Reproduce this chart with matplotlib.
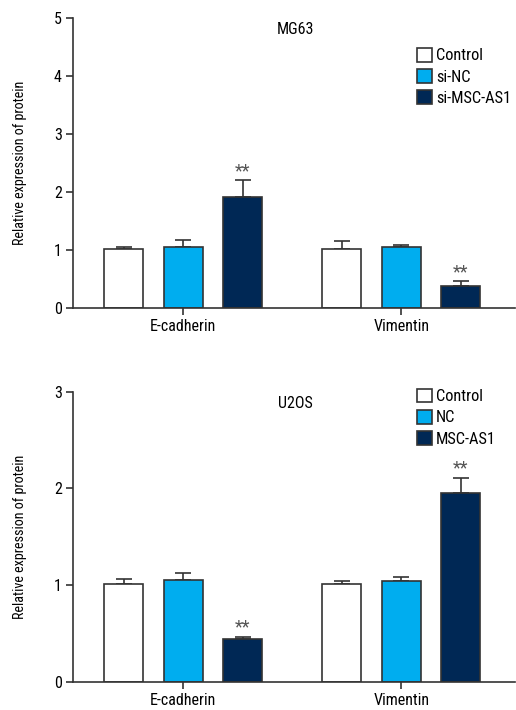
import numpy as np
import matplotlib
matplotlib.use('Agg')
import matplotlib.pyplot as plt
from matplotlib import font_manager

names = set(f.name for f in font_manager.fontManager.ttflist)
for cand in ['Liberation Sans Narrow', 'Roboto Condensed', 'Open Sans Condensed', 'Noto Sans Condensed',
		'DejaVu Sans Condensed', 'Liberation Sans']:
	if cand in names:
		font = cand
		break
plt.rcParams['font.family'] = [font, 'DejaVu Sans']

#### Data ####

genes = ['E-cadherin', 'Vimentin']

mg63_labels = ['Control', 'si-NC', 'si-MSC-AS1']
mg63_means = [[1.02, 1.02], [1.05, 1.05], [1.91, 0.38]]
mg63_err = [[0.03, 0.14], [0.13, 0.04], [0.30, 0.09]]

u2os_labels = ['Control', 'NC', 'MSC-AS1']
u2os_means = [[1.01, 1.01], [1.05, 1.045], [0.44, 1.95]]
u2os_err = [[0.05, 0.035], [0.07, 0.04], [0.025, 0.16]]

colors = ['white', '#00adef', '#002855']
edge = '#333333'


def panel(ax, title, labels, means, errs, ymax, leg_top):
	x = np.arange(len(genes))
	offs = [-0.273, 0, 0.273]
	for i in range(3):
		ax.bar(x + offs[i], means[i], width=0.179, color=colors[i], edgecolor=edge,
			linewidth=1.2, label=labels[i], zorder=2)
		ax.errorbar(x + offs[i], means[i], yerr=[[0, 0], errs[i]], fmt='none',
			ecolor=edge, elinewidth=1.2, capsize=5.5, capthick=1.2, zorder=1)
	# significance stars on the third group
	for j in range(len(genes)):
		ax.text(x[j] + offs[2], means[2][j] + errs[2][j], '**', ha='center', va='bottom',
			fontsize=13, color='#555555')
	ax.set_xlim(-0.505, 1.523)
	ax.set_ylim(0, ymax)
	ax.set_yticks(range(ymax + 1))
	ax.set_xticks(x)
	ax.set_xticklabels(genes)
	ax.tick_params(labelsize=11.5, width=1.2, length=5, color=edge, pad=3)
	ax.spines['top'].set_visible(False)
	ax.spines['right'].set_visible(False)
	for s in ('left', 'bottom'):
		ax.spines[s].set_linewidth(1.2)
		ax.spines[s].set_color(edge)
	ax.set_ylabel('Relative expression of protein', fontsize=10.2)
	ax.text(0.514, 0.96, title, transform=ax.get_xaxis_transform(), ha='center', va='center',
		fontsize=11.5)
	ax.legend(loc='upper left', bbox_to_anchor=(0.778, leg_top), frameon=False, fontsize=11.8,
		handlelength=0.92, handleheight=0.92, handletextpad=0.25, labelspacing=0.35,
		borderaxespad=0, borderpad=0)


fig = plt.figure(figsize=(5.16, 7.10), dpi=100)
ax1 = fig.add_axes([0.1415, 0.566, 0.857, 0.4086])
ax2 = fig.add_axes([0.1415, 0.0399, 0.857, 0.4084])

panel(ax1, 'MG63', mg63_labels, mg63_means, mg63_err, 5, 0.897)
panel(ax2, 'U2OS', u2os_labels, u2os_means, u2os_err, 3, 1.011)

for ax in (ax1, ax2):
	ax.yaxis.set_label_coords(-0.105, 0.5)

fig.savefig('out.png', dpi=100)
